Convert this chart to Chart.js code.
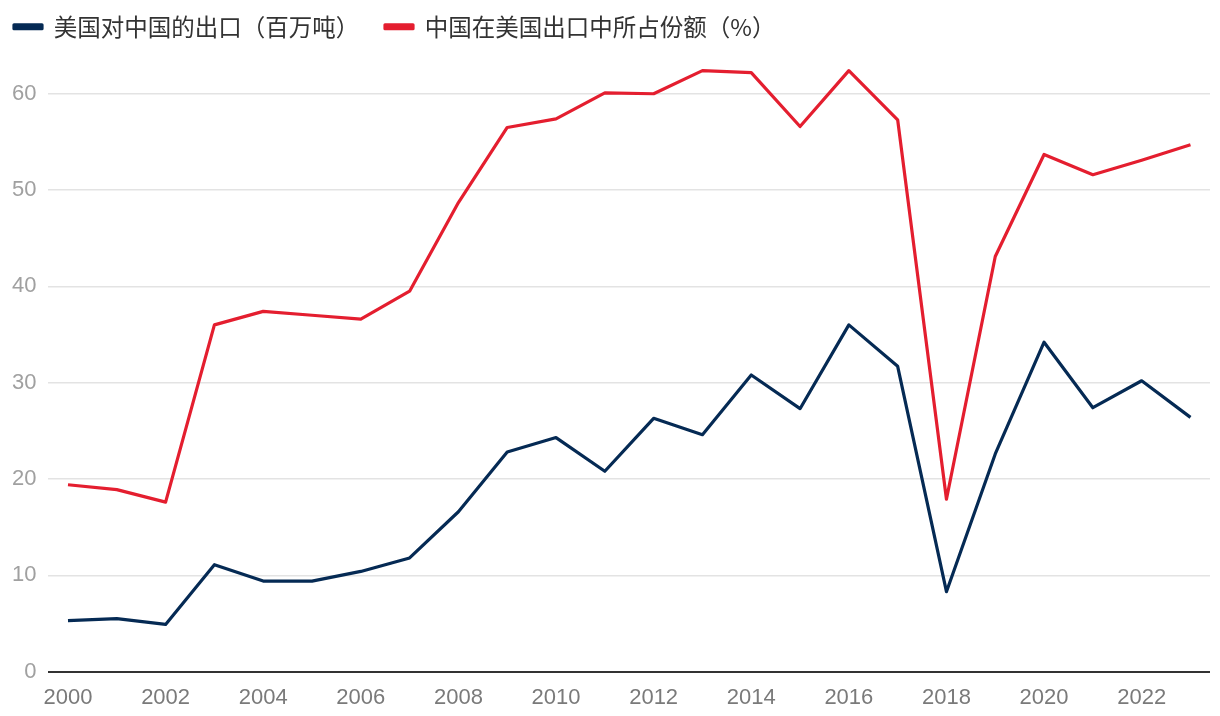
<!DOCTYPE html>
<html>
<head>
<meta charset="utf-8">
<script src="https://cdn.jsdelivr.net/npm/chart.js@4/dist/chart.umd.min.js"></script>
<style>
  html, body { margin: 0; padding: 0; background: #fff; }
  #wrap { width: 1220px; height: 716px; position: relative; }
</style>
</head>
<body>
<div id="wrap"><canvas id="chart"></canvas></div>
<script>
const years = [2000, 2001, 2002, 2003, 2004, 2005, 2006, 2007, 2008, 2009, 2010, 2011,
               2012, 2013, 2014, 2015, 2016, 2017, 2018, 2019, 2020, 2021, 2022, 2023];
const exportsToChina = [5.3, 5.5, 4.9, 11.1, 9.4, 9.4, 10.4, 11.8, 16.6, 22.8, 24.3, 20.8,
                        26.3, 24.6, 30.8, 27.3, 36.0, 31.7, 8.3, 22.6, 34.2, 27.4, 30.2, 26.4];
const chinaShare = [19.4, 18.9, 17.6, 36.0, 37.4, 37.0, 36.6, 39.5, 48.7, 56.5, 57.4, 60.1,
                    60.0, 62.4, 62.2, 56.6, 62.4, 57.3, 17.9, 43.1, 53.7, 51.6, 53.1, 54.7];
const xTicks = [2000, 2002, 2004, 2006, 2008, 2010, 2012, 2014, 2016, 2018, 2020, 2022];
const yTicks = [0, 10, 20, 30, 40, 50, 60];
const seriesNames = ["美国对中国的出口（百万吨）", "中国在美国出口中所占份额（%）"];

const toPoints = vals => vals.map((v, i) => ({ x: years[i], y: v }));
const numFont = "'Liberation Sans', Arial, sans-serif";
const cjkFont = "'Noto Sans CJK SC', 'Liberation Sans', sans-serif";

new Chart(document.getElementById("chart"), {
  type: "line",
  data: {
    datasets: [
      { label: seriesNames[0], data: toPoints(exportsToChina), borderColor: "#052a54", backgroundColor: "#052a54" },
      { label: seriesNames[1], data: toPoints(chinaShare), borderColor: "#e41e2f", backgroundColor: "#e41e2f" }
    ]
  },
  options: {
    responsive: true,
    maintainAspectRatio: false,
    animation: false,
    layout: { padding: { left: 0, right: 10, top: 1, bottom: 0 } },
    elements: {
      line: { borderWidth: 3.2, tension: 0, borderJoinStyle: "round" },
      point: { radius: 0 }
    },
    plugins: {
      tooltip: { enabled: false },
      legend: {
        align: "start",
        labels: {
          boxWidth: 28,
          boxHeight: 4,
          padding: 14,
          color: "#333",
          font: { family: cjkFont, size: 23.5 },
          // a wider gap between the two legend entries
          generateLabels: chart => Chart.defaults.plugins.legend.labels.generateLabels(chart)
            .map((item, i) => i === 0 ? { ...item, text: item.text + "\u3000" } : item)
        }
      }
    },
    scales: {
      x: {
        type: "linear",
        min: 1999.6,
        max: 2023.4,
        afterBuildTicks: axis => { axis.ticks = xTicks.map(v => ({ value: v })); },
        grid: { display: false },
        border: { display: false },
        ticks: {
          color: "#7a7a7a",
          font: { family: numFont, size: 22 },
          padding: 5,
          maxRotation: 0,
          callback: v => String(v)
        }
      },
      y: {
        min: 0,
        max: 64.7,
        afterBuildTicks: axis => { axis.ticks = yTicks.map(v => ({ value: v })); },
        border: { display: false },
        grid: {
          drawTicks: false,
          color: ctx => ctx.tick && ctx.tick.value === 0 ? "#333" : "#e3e3e3",
          lineWidth: ctx => ctx.tick && ctx.tick.value === 0 ? 2 : 1.5
        },
        ticks: {
          color: "#a0a0a0",
          font: { family: numFont, size: 22 },
          padding: 12
        }
      }
    }
  }
});
</script>
</body>
</html>
